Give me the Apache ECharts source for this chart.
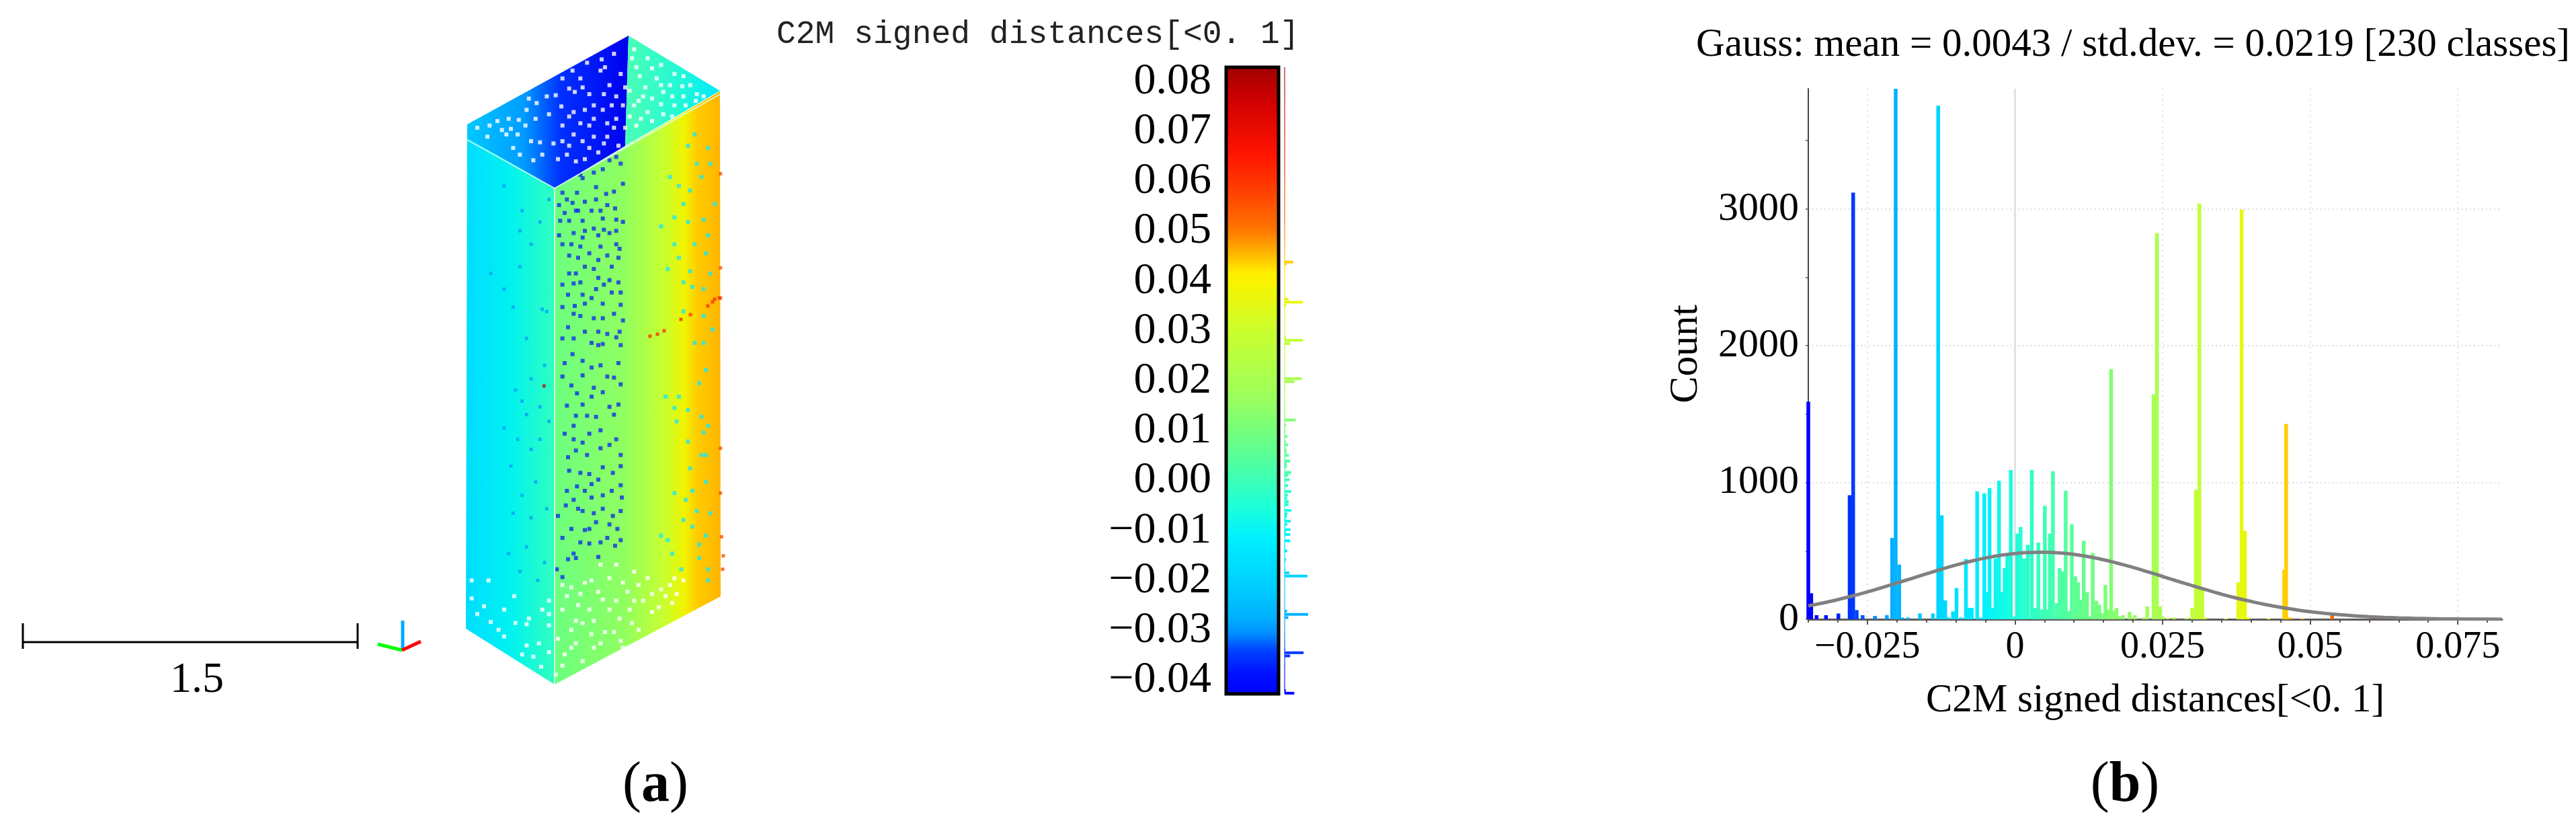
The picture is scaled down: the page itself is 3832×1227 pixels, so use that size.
<!DOCTYPE html>
<html><head><meta charset="utf-8">
<style>html,body{margin:0;padding:0;background:#fff}#c{width:3832px;height:1227px}</style>
<script src="https://cdn.jsdelivr.net/npm/echarts@6/dist/echarts.min.js"></script>
</head><body><div id="c"></div>
<script>
// ---------- histogram (b) ----------
const histDistance=[-0.0350,-0.0345,-0.0336,-0.0320,-0.0299,-0.0280,-0.0274,-0.0268,-0.0258,-0.0237,-0.0217,-0.0208,-0.0202,-0.0196,-0.0191,-0.0181,-0.0161,-0.0139,-0.0130,-0.0124,-0.0118,-0.0113,-0.0105,-0.0099,-0.0091,-0.0083,-0.0078,-0.0073,-0.0064,-0.0057,-0.0052,-0.0047,-0.0043,-0.0038,-0.0033,-0.0027,-0.0022,-0.00175,-0.0013,-0.0007,-0.00004,0.0004,0.00095,0.00156,0.00217,0.00285,0.00339,0.00396,0.00453,0.00506,0.00556,0.0059,0.00643,0.00708,0.00757,0.00807,0.0086,0.00909,0.00963,0.01024,0.01069,0.01115,0.01164,0.0122,0.0127,0.01317,0.01377,0.0143,0.01476,0.01533,0.01583,0.01629,0.01674,0.0172,0.01777,0.0183,0.01941,0.02032,0.0218,0.02241,0.02348,0.02405,0.02458,0.025,0.02584,0.02698,0.02907,0.03002,0.03063,0.03124,0.03173,0.03223,0.0357,0.03782,0.03839,0.03896,0.0395,0.04296,0.04559,0.04593,0.04658,0.04867,0.05373,0.0614];
const histCount=[1590,190,30,30,42,907,3120,67,30,24,30,595,3879,400,13,13,42,42,3755,760,138,13,57,228,13,440,83,83,935,13,920,200,960,83,444,1013,200,374,463,1092,20,626,675,444,545,1092,83,560,70,830,70,626,1082,118,374,350,940,60,695,313,270,143,574,200,20,485,135,107,45,250,70,1830,60,83,20,30,53,30,13,94,1645,2825,94,20,10,13,8,83,946,3040,235,13,5,270,2995,647,13,6,362,1428,13,5,30,4];
const gaussDistance=[-0.035,-0.0325,-0.03,-0.0275,-0.025,-0.0225,-0.02,-0.0175,-0.015,-0.0125,-0.01,-0.0075,-0.005,-0.0025,0,0.0025,0.005,0.0075,0.01,0.0125,0.015,0.0175,0.02,0.0225,0.025,0.0275,0.03,0.0325,0.035,0.0375,0.04,0.0425,0.045,0.0475,0.05,0.0525,0.055,0.0575,0.06,0.0625,0.065,0.0675,0.07,0.0725,0.075,0.08,0.0825];
const gaussCount=[98,119,144,171,200,232,265,298,332,365,396,424,448,467,481,488,490,485,474,457,435,408,379,347,313,279,246,214,183,155,130,107,87,70,55,43,33,25,19,14,10,7,5,3,2,1,0];
const xMinorTicks=[-0.035,-0.03,-0.025,-0.02,-0.015,-0.01,-0.005,0,0.005,0.01,0.015,0.02,0.025,0.03,0.035,0.04,0.045,0.05,0.055,0.06,0.065,0.07,0.075,0.08];
const xLabels=[-0.025,0,0.025,0.05,0.075];
const xDottedGrid=[-0.025,0.025,0.05,0.075];
const yMinorTicks=[0,500,1000,1500,2000,2500,3000,3500];
const yLabels=[0,1000,2000,3000];
const histTitle='Gauss: mean = 0.0043 / std.dev. = 0.0219 [230 classes]';
const axisName='C2M signed distances[<0. 1]';
// ---------- colour scale ----------
const scaleTicks=[-0.04,-0.03,-0.02,-0.01,0,0.01,0.02,0.03,0.04,0.05,0.06,0.07,0.08];
const rampStop=[0,.034,.07,.1,.123,.177,.25,.30,.39,.474,.574,.655,.67,.696,.738,.8,.86,.943,1];
const rampColor=['#0000ff','#0010ff','#0040ff','#0090ff','#00b0ff','#00d0ff','#00f0ff','#1cffd8','#60ff90','#9cff5c','#c8ff30','#f8f400','#fff000','#ffc000','#ff7800','#ff4000','#ff1400','#d00000','#a00000'];
// ---------- point cloud view, in picture coordinates ----------
const faceNames=['left','front','topLeft','topRight'];
const faceVertices=[
 [[695,200],[825,280],[825,1018],[693,935]],
 [[825,280],[1071,136],[1072,887],[825,1018]],
 [[695,185],[935,53],[930,217],[825,280],[695,205]],
 [[935,53],[1071,135],[930,217]]];
const faceStops=[
 [[0,'#00dcff'],[.5,'#00f2f0'],[1,'#30ffc0']],
 [[0,'#6cff80'],[.42,'#90ff60'],[.66,'#c8ff30'],[.78,'#f0f400'],[.86,'#ffcc00'],[1,'#ffb400']],
 [[0,'#00c8ff'],[.35,'#009cff'],[.58,'#0030ff'],[1,'#0000ee']],
 [[0,'#4cffb4'],[.6,'#20f8d8'],[1,'#00e8ff']]];
const edgeLines=[[[695,208],[825,280]],[[825,280],[1071,140]],[[825,280],[825,1018]]];
const crackPoints=[[967,500],[978,497],[988,492],[1013,475],[1027,468],[1053,455],[1060,449],[1063,445],[1070,443]];
const cropA=[650,30],cropB=[650,530];
const blueDotsA=[[800,610],[820,640],[770,625],[740,665],[700,680],[650,705],[560,770],[625,770],[710,745],[755,775],[790,765],[545,825],[605,815],[630,850],[660,810],[710,800],[760,825],[795,840],[830,730],[740,885],[800,890],[550,895],[590,895],[650,895],[600,1000],[545,960],[650,970],[700,930],[745,935],[800,940],[830,900],[590,1050],[630,1060],[730,1010],[815,1020],[810,1060],[720,1070],[780,1100],[610,1175],[660,1100],[620,1130],[745,1180],[810,1170],[820,1215],[585,1225],[650,1225],[710,1200],[615,1275],[660,1265],[740,1265],[610,1310],[700,1330],[740,1330],[815,1390],[585,1370],[720,1390],[800,1415],[690,1440],[605,1490],[740,1445],[640,690],[580,800],[620,850],[690,850],[730,850],[570,860],[660,940],[770,950],[610,950],[720,960],[560,1000],[680,1040],[760,1050],[640,1010],[800,1000],[700,1110],[590,1130],[770,1160],[640,1170],[720,1150],[560,1180],[690,1240],[780,1215],[820,1270],[560,1280],[640,1320],[790,1310],[830,1340],[660,1390],[610,1420],[760,1400],[560,1420],[720,1450],[820,1450]];
const blueDotsB=[[600,130],[690,50],[730,40],[790,95],[700,140],[740,160],[820,125],[625,165],[770,225],[810,215],[670,265],[710,270],[620,265],[570,345],[610,370],[650,385],[770,395],[620,420],[820,440],[820,490],[585,450],[740,495],[680,525],[785,520],[625,580],[820,575],[690,570],[660,600],[690,630],[825,630],[575,665],[630,680],[740,680],[820,690],[710,740],[785,712],[540,712],[660,775],[805,770],[730,830],[680,835],[795,845],[610,880],[720,895],[585,905],[560,985],[535,950],[570,30],[650,20],[810,30],[560,90],[650,85],[760,90],[690,180],[580,220],[650,215],[790,260],[730,330],[610,310],[680,345],[800,370],[730,410],[670,440],[590,510],[640,520],[720,550],[580,600],[780,600],[740,620],[610,640],[650,690],[700,700],[770,750],[600,770],[680,770],[560,810],[640,830],[760,810],[820,820],[620,900]];
const whiteDotsA=[[180,480],[235,470],[320,440],[330,485],[395,470],[365,445],[445,370],[410,350],[460,545],[310,510],[225,520],[370,600],[430,625],[490,340],[530,335],[590,305],[605,225],[555,385],[590,430],[650,300],[670,190],[735,175],[790,150],[730,225],[615,320],[560,470],[610,410],[640,460],[700,380],[740,400],[745,330],[610,510],[680,470],[760,460],[720,590],[620,630],[745,550],[800,440],[520,550],[470,600],[650,540],[790,480],[700,520],[540,620],[660,620],[820,240],[580,600],[870,170],[905,250],[960,215],[1000,200],[1040,290],[1095,295],[1160,330],[900,360],[880,380],[1000,375],[1050,430],[960,450],[890,470],[1010,320],[1155,360],[860,315],[1100,250],[930,300],[980,260],[1060,380],[940,410],[270,450],[360,510],[420,540],[500,420],[440,440],[400,400],[340,570],[290,490],[560,260],[640,260],[680,330],[770,290],[800,340],[560,540],[590,560],[700,440],[660,400],[760,520],[810,560],[680,570],[750,210],[780,380],[830,380],[840,300],[890,210],[940,170],[1060,240],[1130,290],[1190,340],[860,430],[920,340],[1010,420],[1100,340],[1000,290],[1110,380],[960,350],[880,130],[910,440],[1050,340],[840,480]];
const whiteDotsB=[[155,1080],[210,1115],[240,1185],[275,1220],[345,1070],[410,1170],[400,1195],[470,1130],[500,1150],[500,1200],[455,1280],[380,1330],[465,1385],[560,1020],[630,1110],[620,1180],[650,1190],[720,1050],[740,1085],[800,1090],[815,1170],[870,1190],[880,1090],[900,1020],[960,1140],[990,1120],[1050,1100],[1000,1040],[1060,990],[730,930],[690,1000],[830,1010],[620,1280],[700,1300],[820,1270],[750,1230],[570,1330],[650,1360],[560,1380],[600,1220],[640,1060],[770,990],[940,990],[1070,1060],[900,1220],[830,1300],[180,1150],[230,1000],[155,1000],[300,1130],[350,1190],[300,1250],[400,1290],[430,1340],[500,1090],[560,1130],[580,1070],[540,1260],[680,1130],[700,1180],[790,1230],[770,1130],[850,1050],[920,1090],[1020,1070],[1100,1000],[960,1060],[860,1130],[690,1240],[730,1280],[600,1300],[500,1320],[530,1420],[600,1030],[660,1010],[800,930],[880,960],[1040,1020]];
const cyanDotsA=[[1150,510],[1210,570],[1220,640],[1160,640],[1080,740],[1040,700],[1100,820],[1190,890],[1240,820],[1150,1000],[1080,1060],[1200,1040],[1220,1130],[1130,1120],[1100,1170],[1190,1320],[1230,1380],[1150,1440],[1060,880],[1120,560],[1180,700],[1120,900],[1210,960],[1060,1000],[1140,1190],[1190,1200],[1100,1300],[1190,1440],[1030,1110],[1000,920],[1130,760]];
const cyanDotsB=[[1170,120],[1080,180],[1020,180],[1190,340],[1210,310],[1070,290],[1120,380],[1200,440],[1180,440],[1060,610],[1110,640],[1100,730],[1200,800],[1030,820],[1170,840],[1210,950],[1090,950],[1000,800],[1160,690],[1210,1000],[1200,60],[1120,240],[1060,230],[1180,270],[1130,500],[1200,560],[1140,600],[1220,700],[1050,880],[1170,900],[1140,760]];
const skyDotsA=[[380,850],[300,740],[500,800],[370,940],[490,1300],[300,1200],[400,1420],[470,1290],[370,1100],[420,1000],[460,900],[240,1130],[340,1280]];
const skyDotsB=[[480,40],[420,100],[350,150],[460,225],[400,260],[500,290],[360,370],[460,370],[420,415],[330,490],[380,620],[420,720],[320,880],[400,850],[480,920],[370,960],[450,1000],[380,200],[300,320],[440,560],[340,700],[490,680]];
const redDotsA=[[1265,685],[1265,1105],[1265,1240]];
const redDotsB=[[1265,410],[1265,610],[1270,805],[1278,890],[1275,950]];
const maroonDotB=[[478,132]];
// scale bar and orientation glyph
const scaleBarLines=[[[34,955],[532,955]],[[34,927],[34,965]],[[532,927],[532,965]]];
const glyphLines=[{c:'#00aaff',p:[[599,923],[599,967]]},{c:'#00ff00',p:[[598,967],[562,958]]},{c:'#ff0000',p:[[598,967],[626,954]]}];

const serif='"Liberation Serif","Times New Roman",serif';
const fmtMinus=v=>String(v).replace('-','\u2212');
const rampAt=f=>{f=Math.max(0,Math.min(1,f));let i=0;while(i<rampStop.length-2&&f>rampStop[i+1])i++;
 return echarts.color.lerp((f-rampStop[i])/(rampStop[i+1]-rampStop[i]),[rampColor[i],rampColor[i+1]]);};
const histMin=-0.035,histMax=0.0825;
const colorOf=v=>rampAt((v-histMin)/(histMax-histMin));
const gradient=(x0,y0,x1,y1,stops)=>new echarts.graphic.LinearGradient(x0,y0,x1,y1,stops.map(s=>({offset:s[0],color:s[1]})));
const rampStops=rampStop.map((s,i)=>[s,rampColor[i]]);
const fromCrop=(o,list)=>list.map(p=>[o[0]+p[0]/3,o[1]+p[1]/3]);

const hiddenAxis=(o)=>Object.assign({type:'value',show:false,scale:true},o);
const dots=(data,color,size)=>({type:'scatter',xAxisIndex:0,yAxisIndex:0,symbol:'rect',symbolSize:size,silent:true,
  itemStyle:{color},data,z:4,clip:false});
const segment=(pts,color,width,z)=>({type:'line',xAxisIndex:0,yAxisIndex:0,data:pts,showSymbol:false,silent:true,clip:false,z:z||5,
  lineStyle:{color,width,cap:'butt'}});

const scaleMin=-0.0427,scaleMax=0.0829,countMax=3879;
const xBase={type:'value',gridIndex:3,min:histMin,max:histMax,position:'bottom'};
const yBase={type:'value',gridIndex:3,min:0,max:countMax,position:'left'};

const option={
 backgroundColor:'#fff',animation:false,
 title:[
  {text:histTitle,left:3818,top:33,textAlign:'right',textStyle:{fontFamily:serif,fontSize:59,fontWeight:'normal',color:'#000'}},
  {text:'C2M signed distances[<0. 1]',left:1150,top:22,textStyle:{fontFamily:'"Liberation Mono",monospace',fontSize:48,fontWeight:'normal',color:'#222'}},
  {text:'1.5',left:288,top:975,textAlign:'center',textStyle:{fontFamily:serif,fontSize:64,fontWeight:'normal',color:'#000'}},
  {text:'{r|(}{b|a}{r|)}',left:970,top:1122,textAlign:'center',textStyle:{fontWeight:'normal',rich:{r:{fontFamily:serif,fontSize:84,fontWeight:'normal',color:'#000'},b:{fontFamily:serif,fontSize:84,fontWeight:'bold',color:'#000'}}}},
  {text:'{r|(}{b|b}{r|)}',left:3156,top:1122,textAlign:'center',textStyle:{fontWeight:'normal',rich:{r:{fontFamily:serif,fontSize:84,fontWeight:'normal',color:'#000'},b:{fontFamily:serif,fontSize:84,fontWeight:'bold',color:'#000'}}}}
 ],
 grid:[
  {left:0,top:0,width:1250,height:1227},
  {left:1824,top:100,width:78,height:932},
  {left:1911,top:100,width:35,height:931},
  {left:2690,top:132,width:1032,height:789}
 ],
 xAxis:[
  hiddenAxis({gridIndex:0,min:0,max:1250}),
  hiddenAxis({gridIndex:1,min:0,max:1}),
  hiddenAxis({gridIndex:2,min:0,max:countMax}),
  Object.assign({},xBase,{axisLine:{onZero:false,lineStyle:{color:'#5a5a5a',width:3}},
    axisTick:{show:true,customValues:xMinorTicks,length:5,lineStyle:{color:'#555',width:2}},
    axisLabel:{customValues:xLabels,formatter:fmtMinus,margin:14,fontFamily:serif,fontSize:56,color:'#000',hideOverlap:false,showMinLabel:true,showMaxLabel:true},
    splitLine:{show:false},
    name:axisName,nameLocation:'middle',nameGap:92,nameTextStyle:{fontFamily:serif,fontSize:59,color:'#000'}}),
  Object.assign({},xBase,{axisLine:{show:false,onZero:false},
    axisTick:{show:true,customValues:xDottedGrid,length:8,lineStyle:{color:'#555',width:2}},
    axisLabel:{show:false},
    splitLine:{show:true,lineStyle:{color:'#dedede',width:2,type:[2,6]}}}),
  Object.assign({},xBase,{axisLine:{show:false,onZero:false},
    axisTick:{show:true,customValues:[0],length:8,lineStyle:{color:'#555',width:2}},
    axisLabel:{show:false},
    splitLine:{show:true,lineStyle:{color:'#e2e2e2',width:3}}})
 ],
 yAxis:[
  hiddenAxis({gridIndex:0,min:0,max:1227,inverse:true}),
  {type:'value',gridIndex:1,min:scaleMin,max:scaleMax,position:'left',
   axisLine:{show:false,onZero:false},axisTick:{show:false,customValues:scaleTicks},splitLine:{show:false},
   axisLabel:{customValues:scaleTicks,margin:22,fontFamily:serif,fontSize:66,color:'#000',
     formatter:v=>fmtMinus(v.toFixed(2))}},
  hiddenAxis({gridIndex:2,min:histMin,max:histMax}),
  Object.assign({},yBase,{axisLine:{onZero:false,lineStyle:{color:'#444',width:2}},
    axisTick:{show:true,customValues:yMinorTicks,length:4,lineStyle:{color:'#777',width:2}},
    axisLabel:{customValues:yLabels,formatter:v=>String(v),margin:14,padding:[8,0,0,0],fontFamily:serif,fontSize:60,color:'#000'},
    splitLine:{show:false},
    name:'Count',nameLocation:'middle',nameGap:152,nameTextStyle:{fontFamily:serif,fontSize:60,color:'#000'}}),
  Object.assign({},yBase,{axisLine:{show:false,onZero:false},
    axisTick:{show:false,customValues:yLabels.slice(1)},axisLabel:{show:false},
    splitLine:{show:true,lineStyle:{color:'#dcdcdc',width:2,type:[2,4]}}})
 ],
 series:[
  {type:'custom',xAxisIndex:0,yAxisIndex:0,silent:true,clip:false,z:2,
   data:faceNames.map((n,i)=>[i]),
   renderItem:(p,api)=>{const i=api.value(0);return {type:'polygon',
     shape:{points:faceVertices[i].map(v=>api.coord(v))},
     style:{fill:gradient(0,0,1,0,faceStops[i])}};}},
  dots(fromCrop(cropA,whiteDotsA).concat(fromCrop(cropB,whiteDotsB)),'#ffffff',6),
  dots(fromCrop(cropA,blueDotsA).concat(fromCrop(cropB,blueDotsB)),'#1030e8',6),
  dots(fromCrop(cropA,cyanDotsA).concat(fromCrop(cropB,cyanDotsB)),'#20e8e8',6),
  dots(fromCrop(cropA,skyDotsA).concat(fromCrop(cropB,skyDotsB)),'#00a4f4',5),
  dots(fromCrop(cropA,redDotsA).concat(fromCrop(cropB,redDotsB)),'#ff5000',5),
  dots(fromCrop(cropB,maroonDotB),'#a02020',5),
  dots(crackPoints,'#ff3000',5),
  ...edgeLines.map(l=>segment(l,'rgba(225,255,235,0.85)',2)),
  ...scaleBarLines.map(l=>segment(l,'#000',3)),
  ...glyphLines.map(g=>segment(g.p,g.c,5)),
  {type:'custom',xAxisIndex:1,yAxisIndex:1,silent:true,clip:false,z:3,data:[[0]],
   renderItem:(p,api)=>{const a=api.coord([0,scaleMax]),b=api.coord([1,scaleMin]);
     return {type:'rect',shape:{x:a[0],y:a[1],width:b[0]-a[0],height:b[1]-a[1]},
       style:{fill:gradient(0,1,0,0,rampStops),stroke:'#000',lineWidth:5}};}},
  {type:'custom',xAxisIndex:2,yAxisIndex:2,silent:true,clip:false,z:3,data:[[0]],
   renderItem:(p,api)=>{const a=api.coord([0,histMax]),b=api.coord([0,histMin]);
     return {type:'rect',shape:{x:a[0]-1,y:a[1],width:2,height:b[1]-a[1]},
       style:{fill:gradient(0,1,0,0,rampStops),opacity:0.55}};}},
  {type:'custom',xAxisIndex:2,yAxisIndex:2,silent:true,clip:false,z:4,
   data:histDistance.map((d,i)=>[histCount[i],d]),
   renderItem:(p,api)=>{const c=api.value(0),d=api.value(1),a=api.coord([0,d]),b=api.coord([c,d]);
     return {type:'rect',shape:{x:a[0],y:a[1]-2,width:b[0]-a[0],height:4},style:{fill:colorOf(d)}};}},
  {type:'bar',xAxisIndex:3,yAxisIndex:3,barWidth:5.5,silent:true,z:3,
   data:histDistance.map((d,i)=>[d,histCount[i]]),
   itemStyle:{color:p=>colorOf(p.value[0])}},
  {type:'line',xAxisIndex:3,yAxisIndex:3,smooth:true,showSymbol:false,silent:true,z:6,
   data:gaussDistance.map((d,i)=>[d,gaussCount[i]]),lineStyle:{color:'#808080',width:5}},
  {type:'line',xAxisIndex:4,yAxisIndex:4,data:[],silent:true},
  {type:'line',xAxisIndex:5,yAxisIndex:4,data:[],silent:true}
 ]
};
const chart=echarts.init(document.getElementById('c'),null,{renderer:'canvas'});
chart.setOption(option);
</script></body></html>
